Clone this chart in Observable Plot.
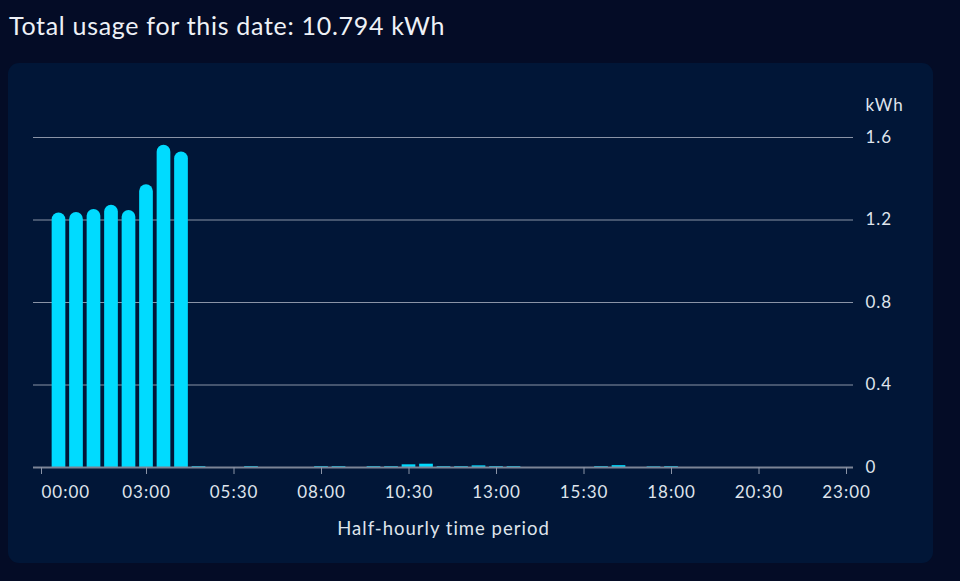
<!DOCTYPE html>
<html><head><meta charset="utf-8">
<script src="https://cdn.jsdelivr.net/npm/d3@7"></script>
<script src="https://cdn.jsdelivr.net/npm/@observablehq/plot@0.6"></script>
<style>
html,body{margin:0;padding:0;background:#040c26;width:960px;height:581px;overflow:hidden;font-family:Lato,"Open Sans",sans-serif;}
#title{position:absolute;left:9px;top:13px;font-size:25px;line-height:25px;letter-spacing:0.7px;color:#eef1f6;white-space:nowrap;}
#card{position:absolute;left:8px;top:63px;width:925px;height:500px;background:#011637;border-radius:11px;overflow:hidden;}
#card svg{display:block;}
#card svg text{letter-spacing:1px;}
</style></head><body>
<div id="title"></div>
<div id="card"></div>
<script>
const totalUsage = 10.794;
const titleText = "Total usage for this date: " + totalUsage + " kWh";
const xAxisLabel = "Half-hourly time period";
const yUnit = "kWh";

// Half-hour periods, labelled by their end time
const periodEnds = ["00:30","01:00","01:30","02:00","02:30","03:00","03:30","04:00",
  "04:30","05:00","05:30","06:00","06:30","07:00","07:30","08:00",
  "08:30","09:00","09:30","10:00","10:30","11:00","11:30","12:00",
  "12:30","13:00","13:30","14:00","14:30","15:00","15:30","16:00",
  "16:30","17:00","17:30","18:00","18:30","19:00","19:30","20:00",
  "20:30","21:00","21:30","22:00","22:30","23:00","23:30","24:00"];
const usage = [1.234, 1.236, 1.251, 1.272, 1.246, 1.371, 1.562, 1.530,
  0.004, 0, 0, 0.004, 0, 0, 0, 0.004,
  0.004, 0, 0.004, 0.004, 0.013, 0.016, 0.004, 0.004,
  0.008, 0.004, 0.004, 0, 0, 0, 0, 0.004,
  0.009, 0, 0.003, 0.004, 0, 0, 0, 0,
  0, 0, 0, 0, 0, 0, 0, 0];

const tickTimes = ["00:00","03:00","05:30","08:00","10:30","13:00","15:30","18:00","20:30","23:00"];
const yTicks = [0, 0.4, 0.8, 1.2, 1.6];

const toSlot = t => { const [h, m] = t.split(":").map(Number); return h * 2 + m / 30; };
const rows = periodEnds.map((t, i) => ({slot: toSlot(t), kwh: usage[i]})).filter(d => d.kwh > 0);
const tickSlots = tickTimes.map(toSlot);
const slotLabel = s => tickTimes[tickSlots.indexOf(s)];

document.getElementById("title").textContent = titleText;

const grid = "#8a93a6";
const textColor = "#dfe4ec";
const barColor = "#00dbff";
const barInset = 1.9;
const capDepth = 0.034; // rounded cap hidden below the baseline by clipping

const chart = Plot.plot({
  width: 925, height: 500,
  marginLeft: 25, marginRight: 80, marginTop: 74, marginBottom: 96,
  style: {background: "transparent", color: textColor, fontFamily: "Lato, 'Open Sans', sans-serif", fontSize: "17px"},
  x: {domain: [-8 / 17.5, 812 / 17.5], axis: null},
  y: {domain: [0, 1.6], axis: null},
  marks: [
    Plot.ruleY(yTicks.filter(v => v > 0), {stroke: grid, strokeWidth: 1, strokeOpacity: 1}),
    Plot.rectY(rows.filter(d => d.kwh > 0.1), {x1: d => d.slot - 0.5, x2: d => d.slot + 0.5, y1: -capDepth, y2: "kwh",
      insetLeft: barInset, insetRight: barInset, fill: barColor, rx: 6.85, clip: "frame"}),
    Plot.rectY(rows.filter(d => d.kwh <= 0.1), {x1: d => d.slot - 0.5, x2: d => d.slot + 0.5, y1: 0, y2: "kwh",
      insetLeft: barInset, insetRight: barInset, fill: barColor}),
    Plot.ruleY([0], {stroke: "#7c8496", strokeWidth: 2}),
    Plot.axisX(tickSlots.slice(0, 1), {tickSize: 7, tickPadding: 11, stroke: grid, strokeOpacity: 1,
      tickFormat: slotLabel, textAnchor: "start", fill: textColor}),
    Plot.axisX(tickSlots.slice(1), {tickSize: 7, tickPadding: 11, stroke: grid, strokeOpacity: 1,
      tickFormat: slotLabel, fill: textColor, label: null}),
    Plot.axisY(yTicks, {anchor: "right", tickSize: 0, tickPadding: 12, tickFormat: d => String(d),
      fill: textColor, label: null}),
    Plot.text([yUnit], {frameAnchor: "top-right", textAnchor: "start", dx: 12, dy: -39, fill: textColor}),
    Plot.text([xAxisLabel], {frameAnchor: "bottom", dy: 67, fill: textColor, fontSize: 18.5})
  ]
});
document.getElementById("card").appendChild(chart);
</script>
</body></html>
